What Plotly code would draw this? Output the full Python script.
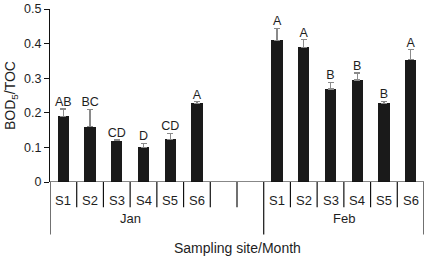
import plotly.graph_objects as go

sites = ["S1", "S2", "S3", "S4", "S5", "S6"]
months = ["Jan", "Feb"]
jan_vals = [0.190, 0.160, 0.119, 0.100, 0.124, 0.228]
jan_err = [0.021, 0.050, 0.003, 0.011, 0.016, 0.004]
jan_letters = ["AB", "BC", "CD", "D", "CD", "A"]
feb_vals = [0.410, 0.389, 0.269, 0.295, 0.227, 0.354]
feb_err = [0.034, 0.022, 0.019, 0.020, 0.006, 0.028]
feb_letters = ["A", "A", "B", "B", "B", "A"]
y_ticks = [0, 0.1, 0.2, 0.3, 0.4, 0.5]

FONT = "Liberation Sans, Arial, sans-serif"
TXT = "#1e1e1e"

jan_x = list(range(0, 6))
feb_x = list(range(8, 14))
xs = jan_x + feb_x
vals = jan_vals + feb_vals
errs = jan_err + feb_err
letters = jan_letters + feb_letters

fig = go.Figure()
fig.add_trace(go.Bar(
    x=xs, y=vals, width=0.42,
    marker=dict(color="#1a1a1a", line=dict(width=0)),
    error_y=dict(type="data", array=errs, arrayminus=[0] * len(errs), symmetric=False,
                 color="#8a8a8a", thickness=1.2, width=3),
    showlegend=False, hoverinfo="skip",
))
fig.add_trace(go.Scatter(
    x=xs, y=[v + e for v, e in zip(vals, errs)], mode="text", text=letters,
    textposition="top center", textfont=dict(family=FONT, size=12.5, color=TXT),
    showlegend=False, cliponaxis=False, hoverinfo="skip",
))

shapes = []
shapes.append(dict(type="line", xref="x", yref="y", x0=-0.5, x1=13.5, y0=0, y1=0,
                   line=dict(color="#111", width=1.2)))
for i in range(15):
    xb = -0.5 + i
    long = xb in (-0.5, 7.5, 13.5)
    shapes.append(dict(type="line", xref="x", yref="paper", x0=xb, x1=xb,
                       y0=0, y1=(-0.303 if long else -0.146),
                       line=dict(color="#111", width=1.2)))
fig.update_layout(shapes=shapes)

ann = []
for i, s in enumerate(sites):
    for base in (0, 8):
        ann.append(dict(x=base + i, y=-0.107, xref="x", yref="paper", text=s,
                        yanchor="middle", showarrow=False,
                        font=dict(family=FONT, size=13, color=TXT)))
ann.append(dict(x=2.5, y=-0.213, xref="x", yref="paper", text=months[0], showarrow=False,
                yanchor="middle", font=dict(family=FONT, size=13, color=TXT)))
ann.append(dict(x=10.5, y=-0.213, xref="x", yref="paper", text=months[1], showarrow=False,
                yanchor="middle", font=dict(family=FONT, size=13, color=TXT)))
ann.append(dict(x=6.5, y=-0.382, xref="x", yref="paper", text="Sampling site/Month",
                yanchor="middle", showarrow=False,
                font=dict(family=FONT, size=14, color=TXT)))
fig.update_layout(annotations=ann)

fig.update_layout(
    width=426, height=260,
    margin=dict(l=50, r=2, t=4, b=78),
    paper_bgcolor="white", plot_bgcolor="white",
    font=dict(family=FONT, size=12, color=TXT),
    bargap=0,
    xaxis=dict(range=[-0.5, 13.5], showticklabels=False, ticks="", showgrid=False,
               zeroline=False, showline=False, fixedrange=True),
    yaxis=dict(range=[0, 0.5], tickvals=y_ticks, ticktext=["0", "0.1", "0.2", "0.3", "0.4", "0.5"],
               ticks="outside", ticklen=5, tickcolor="#111", showgrid=False, zeroline=False,
               showline=True, linecolor="#111", linewidth=1.2, ticklabeloverflow="allow",
               title=dict(text="BOD<sub>5</sub>/TOC", font=dict(family=FONT, size=14, color=TXT),
                          standoff=5),
               tickfont=dict(family=FONT, size=12.5, color=TXT), fixedrange=True),
)

fig.write_html("out.html", config={"displayModeBar": False},
               post_script="document.body.style.margin='0';document.body.style.overflow='hidden';")
